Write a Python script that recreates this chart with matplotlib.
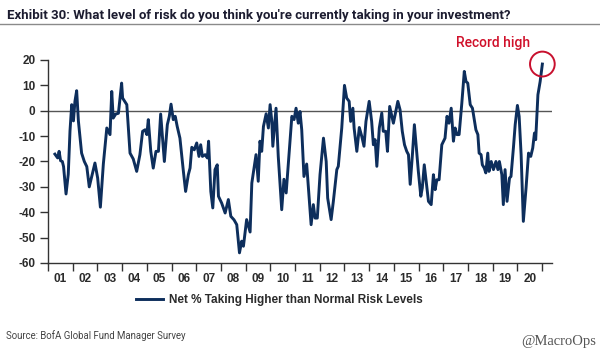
import matplotlib
matplotlib.use("Agg")
import matplotlib.pyplot as plt
from matplotlib.patches import Ellipse
from matplotlib.lines import Line2D

# survey readings (year fraction, net % taking higher than normal risk)
dates = [
    2001.28, 2001.39, 2001.45, 2001.51, 2001.58, 2001.63, 2001.73, 2001.82, 2001.89, 2001.96,
    2002.03, 2002.09, 2002.16, 2002.23, 2002.36, 2002.47, 2002.57, 2002.67, 2002.79, 2002.90,
    2003.01, 2003.12, 2003.24, 2003.38, 2003.51, 2003.58, 2003.64, 2003.74, 2003.85, 2003.98,
    2004.02, 2004.19, 2004.32, 2004.45, 2004.59, 2004.72, 2004.83, 2004.93, 2005.00, 2005.06,
    2005.16, 2005.26, 2005.37, 2005.47, 2005.56, 2005.71, 2005.83, 2005.91, 2005.98, 2006.07,
    2006.15, 2006.23, 2006.34, 2006.48, 2006.57, 2006.68, 2006.75, 2006.82, 2006.92, 2007.02,
    2007.11, 2007.18, 2007.25, 2007.36, 2007.45, 2007.50, 2007.59, 2007.67, 2007.76, 2007.85,
    2007.90, 2008.03, 2008.17, 2008.30, 2008.40, 2008.53, 2008.64, 2008.75, 2008.84, 2008.91,
    2009.04, 2009.18, 2009.25, 2009.42, 2009.51, 2009.58, 2009.65, 2009.72, 2009.83, 2009.92,
    2009.99, 2010.06, 2010.10, 2010.23, 2010.32, 2010.46, 2010.55, 2010.64, 2010.80, 2010.87,
    2010.96, 2011.04, 2011.13, 2011.20, 2011.27, 2011.36, 2011.47, 2011.65, 2011.74, 2011.81,
    2011.90, 2012.01, 2012.15, 2012.26, 2012.32, 2012.46, 2012.55, 2012.69, 2012.75, 2012.89,
    2013.00, 2013.09, 2013.19, 2013.25, 2013.34, 2013.39, 2013.50, 2013.60, 2013.70, 2013.79,
    2013.87, 2014.00, 2014.10, 2014.17, 2014.24, 2014.31, 2014.41, 2014.51, 2014.57, 2014.67,
    2014.74, 2014.83, 2014.98, 2015.16, 2015.25, 2015.34, 2015.43, 2015.52, 2015.59, 2015.66,
    2015.75, 2015.83, 2015.93, 2015.99, 2016.09, 2016.15, 2016.23, 2016.33, 2016.40, 2016.51,
    2016.60, 2016.67, 2016.74, 2016.83, 2016.94, 2017.07, 2017.15, 2017.23, 2017.32, 2017.41,
    2017.48, 2017.55, 2017.64, 2017.75, 2017.85, 2017.92, 2017.99, 2018.09, 2018.18, 2018.32,
    2018.40, 2018.45, 2018.53, 2018.58, 2018.66, 2018.72, 2018.80, 2018.85, 2018.94, 2019.03,
    2019.13, 2019.21, 2019.27, 2019.37, 2019.43, 2019.50, 2019.58, 2019.68, 2019.74, 2019.84,
    2019.91, 2020.00, 2020.07, 2020.15, 2020.24, 2020.35, 2020.45, 2020.54, 2020.62, 2020.69,
    2020.74, 2020.83, 2020.92, 2021.01,
]
net_pct = [
    -17.1, -18.6, -16.0, -19.7, -20.0, -22.0, -32.8, -25.0, -8.0, 2.4,
    -4.0, 3.7, 7.9, -4.0, -16.7, -20.0, -22.0, -30.0, -25.0, -20.6,
    -26.5, -38.0, -21.0, -6.8, -9.4, 7.6, -2.9, -1.3, -1.0, 10.9,
    5.0, 2.4, -16.7, -19.0, -23.9, -17.3, -8.1, -7.5, -9.4, -3.5,
    -16.0, -22.6, -16.0, -16.0, -1.3, -20.0, -5.5, -2.2, 2.6, -3.5,
    -2.2, -6.2, -10.8, -23.9, -31.8, -25.2, -22.6, -14.4, -15.4, -12.7,
    -18.0, -13.4, -18.0, -17.3, -18.6, -12.0, -31.8, -38.3, -23.2, -21.3,
    -33.7, -36.4, -40.3, -35.0, -41.6, -43.0, -44.9, -56.0, -51.4, -53.4,
    -42.9, -47.8, -28.5, -17.3, -27.8, -12.0, -16.0, -6.2, -1.2, -6.8,
    2.4, -4.2, -14.0, 1.0, -18.0, -39.0, -27.0, -32.4, -11.4, -2.2,
    -3.5, 1.0, -4.9, -0.3, -7.5, -25.9, -21.0, -44.9, -37.0, -42.3,
    -42.3, -25.2, -10.8, -20.0, -34.4, -42.9, -35.7, -23.2, -21.9, -6.8,
    10.0, 5.0, 3.7, -4.2, 1.0, -6.8, -16.0, -6.6, -10.1, -14.0,
    -4.2, 3.7, -4.2, -13.4, -11.4, -21.9, -6.8, -0.9, -8.1, -8.1,
    -16.0, 1.7, -4.9, 3.7, 0.4, -8.1, -13.4, -16.0, -17.3, -29.0,
    -17.3, -5.5, -17.3, -23.9, -33.7, -30.4, -21.3, -29.8, -35.7, -37.0,
    -25.2, -31.1, -27.2, -27.2, -13.4, -10.8, -2.2, -4.9, 1.0, -12.0,
    -6.8, -9.4, -9.4, 3.0, 15.5, 11.5, 10.9, 2.4, 1.0, -7.5,
    -9.4, -16.7, -17.3, -21.3, -22.6, -24.5, -16.7, -23.9, -20.0, -23.2,
    -20.0, -23.2, -20.0, -25.2, -37.0, -23.2, -35.7, -26.5, -25.9, -14.4,
    -5.5, 2.1, -2.2, -17.3, -43.6, -30.4, -16.7, -18.0, -14.7, -8.8,
    -11.4, 6.3, 11.5, 18.4,
]
year_labels = ["01", "02", "03", "04", "05", "06", "07", "08", "09", "10",
               "11", "12", "13", "14", "15", "16", "17", "18", "19", "20"]
y_ticks = [20, 10, 0, -10, -20, -30, -40, -50, -60]

navy = "#0d2e5c"
text_dark = "#2b2b2b"

fig = plt.figure(figsize=(6, 3.61), dpi=100)
ax = fig.add_axes([0.08, 0.2715, 0.84, 0.5623])

ax.plot(dates, net_pct, color=navy, lw=2.1, solid_joinstyle="round", zorder=3)
ax.axhline(0, color="#555555", lw=1.0, zorder=2)

ax.set_xlim(2001.0, 2021.4)
ax.set_ylim(-60, 20)

for s in ["top", "right"]:
    ax.spines[s].set_visible(False)
for s in ["left", "bottom"]:
    ax.spines[s].set_color("#333333")
    ax.spines[s].set_linewidth(1.0)

ax.set_yticks(y_ticks)
ax.set_yticklabels([str(v) for v in y_ticks], fontsize=8.5, fontweight="bold",
                   color=text_dark, family="Liberation Sans")
ax.tick_params(axis="y", direction="out", length=6, width=1, color="#333333", pad=3)

starts = [2001 + i for i in range(len(year_labels) + 1)]
ax.set_xticks(starts)
ax.set_xticklabels([])
ax.set_xticks([s + 0.5 for s in starts[:-1]], minor=True)
ax.set_xticklabels(year_labels, minor=True, fontsize=8.5, fontweight="bold",
                   color=text_dark, family="Liberation Sans")
ax.tick_params(axis="x", which="major", direction="out", length=6, width=1, color="#333333")
ax.tick_params(axis="x", which="minor", length=0, pad=7)

# record high annotation
circle = Ellipse((dates[-1], 18.4), width=1.0, height=9.8, fill=False,
                 edgecolor="#c8102e", lw=1.4, clip_on=False, zorder=4)
ax.add_patch(circle)
fig.text(0.76, 0.882, "Record high", color="#d0102a", fontsize=10,
         family="Roboto", fontweight="medium", ha="left", va="center")

# title and rule, sized to the reference width
renderer = fig.canvas.get_renderer()
title = fig.text(0.012, 0.957,
                 "Exhibit 30: What level of risk do you think you're currently taking in your investment?",
                 fontsize=10.5, fontweight="bold", color="#1c1c30",
                 family="Roboto", ha="left", va="center")
w = title.get_window_extent(renderer).width
title.set_fontsize(10.5 * 506 / w)
fig.add_artist(Line2D([0, 1], [0.933, 0.933], color="#8a8a8a", lw=1.0))

# legend
leg_handle = Line2D([], [], color=navy, lw=2.1)
fig.legend([leg_handle], ["Net % Taking Higher than Normal Risk Levels"],
           loc="center", bbox_to_anchor=(0.465, 0.168), frameon=False,
           prop={"family": "Liberation Sans", "weight": "bold", "size": 8.5},
           handlelength=2.3, handletextpad=0.5, labelcolor=text_dark)

src = fig.text(0.01, 0.07, "Source: BofA Global Fund Manager Survey", fontsize=7.5,
               color="#444444", family="Roboto", ha="left", va="center")
w = src.get_window_extent(renderer).width
src.set_fontsize(7.5 * 180 / w)
fig.text(0.993, 0.055, "@MacroOps", fontsize=10.5, color="#555555",
         family="Liberation Serif", ha="right", va="center")

fig.savefig("out.png", dpi=100)
